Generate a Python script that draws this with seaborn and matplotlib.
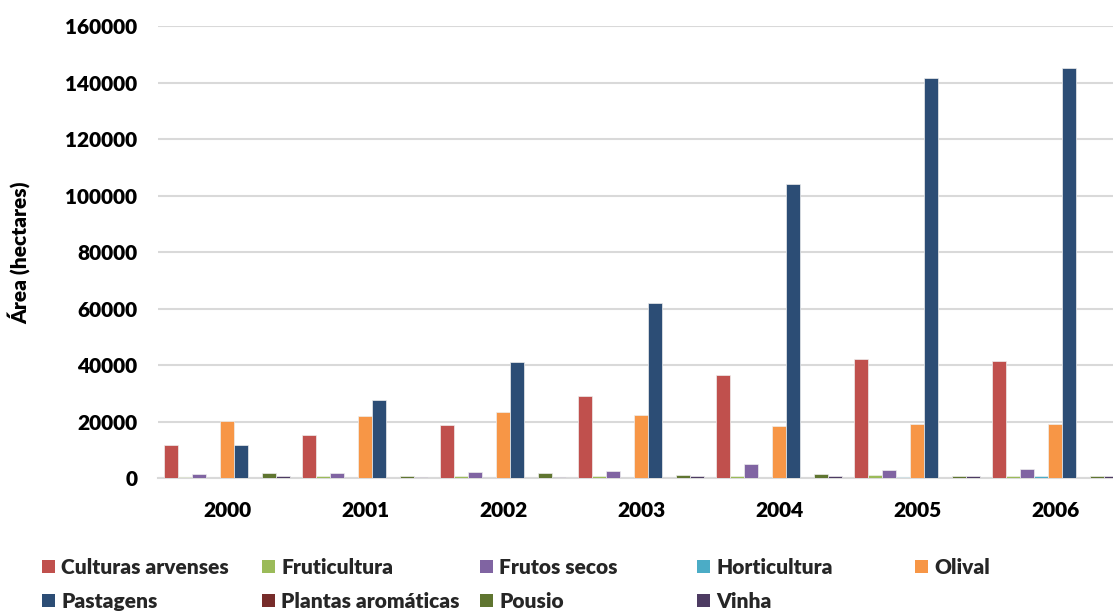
import numpy as np
import pandas as pd
import matplotlib
matplotlib.use("Agg")
import matplotlib.pyplot as plt
import seaborn as sns
from matplotlib.patches import Patch

# Área por tipo de cultura (hectares), 2000-2006
anos = ["2000", "2001", "2002", "2003", "2004", "2005", "2006"]
culturas_arvenses = [11700, 15300, 18900, 29100, 36500, 42400, 41500]
fruticultura = [500, 800, 700, 900, 900, 1150, 800]
frutos_secos = [1600, 1950, 2300, 2650, 5000, 2900, 3250]
horticultura = [100, 100, 150, 200, 200, 500, 800]
olival = [20200, 21900, 23600, 22300, 18600, 19100, 19100]
pastagens = [11900, 27700, 41300, 62200, 104100, 141700, 145300]
plantas_aromaticas = [40, 40, 50, 50, 60, 60, 70]
pousio = [1900, 900, 1850, 1150, 1350, 900, 900]
vinha = [800, 500, 450, 780, 780, 900, 900]

series = {
    "Culturas arvenses": culturas_arvenses,
    "Fruticultura": fruticultura,
    "Frutos secos": frutos_secos,
    "Horticultura": horticultura,
    "Olival": olival,
    "Pastagens": pastagens,
    "Plantas aromáticas": plantas_aromaticas,
    "Pousio": pousio,
    "Vinha": vinha,
}
cores = ["#C0504D", "#9BBB59", "#8064A2", "#4BACC6", "#F79646",
         "#2C4D75", "#772C2A", "#5F7530", "#4D3B62"]

df = pd.DataFrame(
    [(ano, nome, v) for nome, vals in series.items() for ano, v in zip(anos, vals)],
    columns=["Ano", "Cultura", "Area"],
)

sns.set_theme(style="white")
plt.rcParams["font.family"] = ["Lato", "DejaVu Sans"]
PESO = "heavy"
plt.rcParams["font.weight"] = PESO

W, H = 1113, 613
fig = plt.figure(figsize=(W / 100, H / 100), dpi=100)
ax = fig.add_axes([158 / W, (H - 478.3) / H, 966 / W, 452 / H])

sns.barplot(data=df, x="Ano", y="Area", hue="Cultura", hue_order=list(series),
            order=anos, palette=cores, saturation=1, width=0.913, ax=ax,
            legend=False, edgecolor="#eeeeee", linewidth=0.5, zorder=3)

ax.set_xlim(-0.5, 6.5)
ax.set_ylim(0, 160000)
ax.set_yticks(np.arange(0, 160001, 20000))
ax.yaxis.grid(True, color="#d9d9d9", linewidth=1.5, zorder=0)
ax.set_axisbelow(True)
for s in ["left", "right", "top"]:
    ax.spines[s].set_visible(False)
ax.spines["bottom"].set_color("#d9d9d9")
ax.spines["bottom"].set_linewidth(1.5)
ax.tick_params(axis="both", length=0, labelsize=15, colors="black")
ax.tick_params(axis="y", pad=15)
ax.tick_params(axis="x", pad=16)
for lab in ax.get_xticklabels() + ax.get_yticklabels():
    lab.set_fontweight(PESO)
ax.set_xlabel("")
ax.set_ylabel("Área (hectares)", fontsize=15, fontweight=PESO, color="black")
ax.yaxis.set_label_coords((30 - 158) / 966, 0.5)

# Legenda em grelha: cinco colunas, preenchida por linhas
nomes = list(series)
colunas_x = [42, 262, 480, 697, 915]
for c, x in enumerate(colunas_x):
    idx = [i for i in range(len(nomes)) if i % 5 == c]
    handles = [Patch(facecolor=cores[i], edgecolor="none") for i in idx]
    leg = fig.legend(handles, [nomes[i] for i in idx], loc="upper left",
                     bbox_to_anchor=(x / W, (H - 558) / H), frameon=False,
                     borderpad=0, borderaxespad=0, handlelength=0.62,
                     handleheight=0.62, handletextpad=0.3, labelspacing=0.7,
                     prop={"size": 15, "weight": PESO})

fig.savefig("out.png", dpi=100)
